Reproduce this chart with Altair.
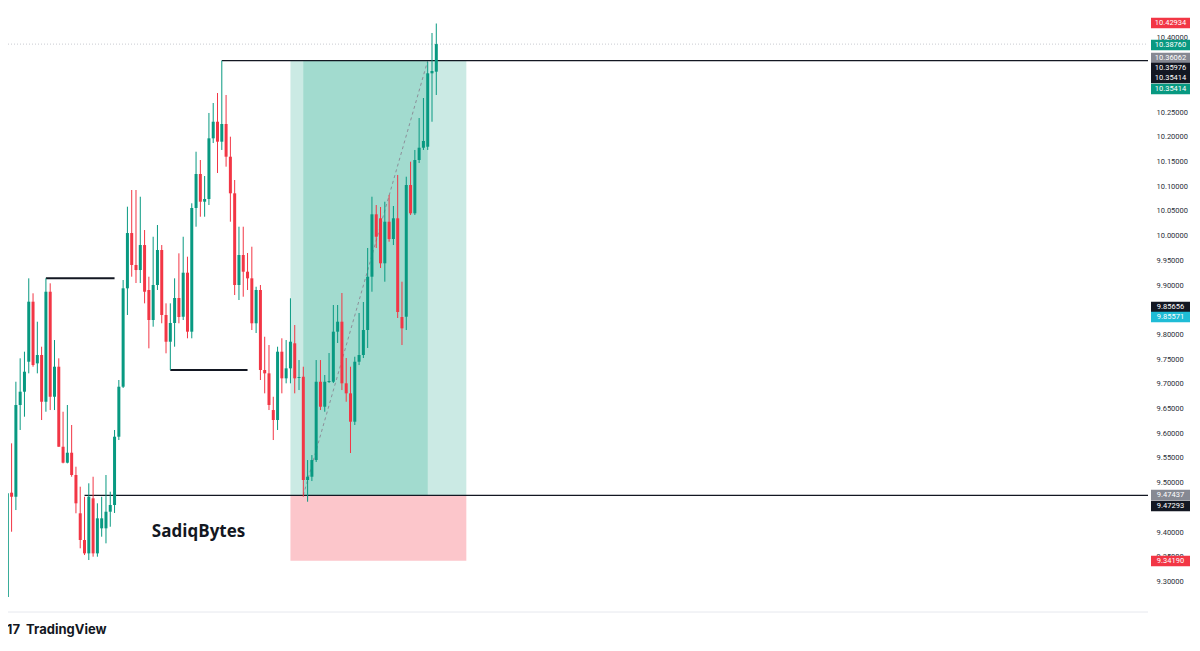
import altair as alt
import pandas as pd

GREEN = "#089981"
RED = "#f23645"

# ---- candle data ----
opens = [
    9.2684, 9.4796, 9.4714, 9.6571, 9.6840, 9.7447, 9.8662, 9.7414, 9.7583, 9.6637,
    9.8864, 9.6738, 9.7346, 9.5726, 9.5403, 9.5605, 9.5154, 9.4379, 9.3838, 9.3568,
    9.4682, 9.3568, 9.4075, 9.4075, 9.4411, 9.4547, 9.5929, 9.6941, 9.8933, 10.0052,
    9.9405, 9.9303, 9.9809, 9.8899, 9.8291, 9.9000, 9.9708, 9.8393, 9.7852, 9.8231,
    9.8737, 9.8358, 9.9249, 9.8055, 10.0559, 10.1247, 10.0686, 10.0741, 10.1969, 10.2305,
    10.1901, 10.2259, 10.1597, 10.0856, 9.9000, 9.9607, 9.9269, 9.9135, 9.8225, 9.8899,
    9.7279, 9.7212, 9.6469, 9.6267, 9.7650, 9.7111, 9.7313, 9.7820, 9.7117, 9.7143,
    9.5053, 9.5119, 9.5457, 9.7042, 9.6536, 9.7036, 9.7042, 9.8055, 9.8257, 9.7010,
    9.6807, 9.6233, 9.7447, 9.7583, 9.8089, 9.9168, 10.0431, 10.0350, 9.9439, 10.0281,
    9.9931, 10.0350, 9.8352, 9.8358, 10.1024, 10.0451, 10.1530, 10.1779, 10.1799, 10.3285,
    10.3318,
]
highs = [
    9.5255, 9.5795, 9.7042, 9.7516, 9.7650, 9.9135, 9.8832, 9.8257, 9.7751, 9.9135,
    9.9034, 9.7886, 9.7516, 9.6435, 9.6571, 9.6166, 9.5322, 9.4917, 9.4714, 9.4986,
    9.5119, 9.4581, 9.4714, 9.5154, 9.4816, 9.6065, 9.7077, 9.9101, 10.0585, 10.0923,
    10.0923, 10.0787, 10.0113, 9.9168, 9.9977, 10.0214, 9.9809, 9.8629, 9.8629, 9.9135,
    9.9641, 9.9977, 9.9573, 10.0654, 10.1698, 10.1530, 10.1206, 10.2482, 10.2684, 10.2886,
    10.3541, 10.2846, 10.2002, 10.1125, 10.0180, 10.0180, 9.9648, 9.9775, 9.8965, 9.9000,
    9.7953, 9.7785, 9.6738, 9.7751, 9.7921, 9.7886, 9.8731, 9.8190, 9.7481, 9.7346,
    9.5457, 9.5558, 9.7481, 9.7481, 9.7178, 9.7623, 9.8595, 9.8595, 9.8838, 9.7522,
    9.7346, 9.7548, 9.8433, 9.8656, 9.9749, 10.0787, 10.0619, 10.0579, 10.0686, 10.0822,
    10.0599, 10.1227, 9.9067, 10.1192, 10.1496, 10.1733, 10.2380, 10.2785, 10.3520, 10.4101,
    10.4293,
]
lows = [
    9.2664, 9.4006, 9.4445, 9.6065, 9.6334, 9.7212, 9.7346, 9.7212, 9.6267, 9.6435,
    9.6469, 9.6469, 9.5726, 9.5390, 9.5390, 9.5119, 9.4379, 9.3670, 9.3534, 9.3433,
    9.3500, 9.3500, 9.3905, 9.3771, 9.4107, 9.4385, 9.5862, 9.6915, 9.8393, 9.9168,
    9.9040, 9.9040, 9.8629, 9.7718, 9.8156, 9.8899, 9.8225, 9.7617, 9.7279, 9.7751,
    9.8225, 9.8291, 9.7921, 9.7921, 10.0180, 10.0382, 10.0382, 10.0619, 10.1874, 10.1267,
    10.1733, 10.1395, 10.0281, 9.8797, 9.8696, 9.8763, 9.8899, 9.8089, 9.8028, 9.7077,
    9.6807, 9.6469, 9.5862, 9.6065, 9.6807, 9.7010, 9.7010, 9.6807, 9.6874, 9.4714,
    9.4613, 9.5032, 9.5417, 9.6469, 9.6435, 9.7016, 9.7016, 9.7826, 9.6874, 9.6637,
    9.5599, 9.6166, 9.7380, 9.7522, 9.7725, 9.8864, 9.9749, 9.9344, 9.9067, 9.9876,
    9.9809, 9.8332, 9.7785, 9.8089, 10.0417, 10.0417, 10.1469, 10.1733, 10.1733, 10.2305,
    10.2846,
]
closes = [
    9.4783, 9.4714, 9.6571, 9.6840, 9.7245, 9.8662, 9.7380, 9.7583, 9.6637, 9.8864,
    9.6738, 9.7346, 9.5726, 9.5403, 9.5605, 9.5154, 9.4581, 9.3838, 9.3568, 9.4714,
    9.3568, 9.4277, 9.4277, 9.4411, 9.4547, 9.5929, 9.6941, 9.8933, 10.0052, 9.9405,
    9.9303, 9.9809, 9.8864, 9.8291, 9.9000, 9.9708, 9.8393, 9.7852, 9.8231, 9.8737,
    9.8352, 9.9249, 9.8055, 10.0559, 10.1247, 10.0686, 10.0741, 10.1969, 10.2305, 10.1901,
    10.2259, 10.1597, 10.0856, 9.9000, 9.9607, 9.9269, 9.9135, 9.8225, 9.8899, 9.7279,
    9.7212, 9.6571, 9.6267, 9.7650, 9.7111, 9.7313, 9.7852, 9.7111, 9.7137, 9.5053,
    9.5119, 9.5457, 9.7042, 9.6536, 9.7042, 9.7056, 9.8055, 9.8257, 9.7010, 9.6807,
    9.6233, 9.7447, 9.7583, 9.8089, 9.9168, 10.0431, 9.9977, 9.9439, 10.0281, 9.9931,
    10.0350, 9.8453, 9.8123, 10.1024, 10.0451, 10.1530, 10.1779, 10.1915, 10.3285, 10.3332,
    10.3876,
]

# ---- drawings ----
thick_levels = [9.9135, 9.7279]
thick_start = [10, 39]
thick_end = [26, 57]
long_levels = [10.35414, 9.47437]
long_start = [51, 19]
last_price = 10.3876

entry_price = 9.47437
target_price = 10.35414
stop_price = 9.34190
tool_start, tool_end = 67, 108
trade_open, trade_close = 70, 99

badge_labels = ["10.42934", "10.38760", "10.36062", "10.35976", "10.35414", "10.35414",
                "9.85656", "9.85571", "9.47437", "9.47293", "9.34190"]
badge_levels = [10.4303, 10.3858, 10.3595, 10.3393, 10.3190, 10.2967,
                9.8554, 9.8352, 9.4749, 9.4526, 9.3413]
badge_kinds = ["b_red", "b_green", "b_gray", "b_black", "b_black", "b_green",
               "b_black", "b_cyan", "b_gray", "b_black", "b_red"]

tick_values = [round(9.30 + 0.05 * k, 2) for k in range(23)]

watermark = "SadiqBytes"
watermark_bar = 34.7
watermark_price = 9.400

X_MIN, X_MAX = 1.163, 266.9
Y_MIN, Y_MAX = 9.2381, 10.4607
W, H = 1140, 604

xs = alt.Scale(domain=[X_MIN, X_MAX], nice=False, zero=False, padding=0)
ys = alt.Scale(domain=[Y_MIN, Y_MAX], nice=False, zero=False, padding=0)
Y_AXIS = alt.Axis(orient="right", values=tick_values, format=".5f", ticks=False,
                  tickSize=0, domain=False, grid=False, labelPadding=8,
                  labelFontSize=7.5, labelColor="#2a2e39", labelFont="Roboto",
                  labelOverlap=False, labelFlush=False, title=None)


def Y(field):
    return alt.Y(field, scale=ys, axis=Y_AXIS, title=None)


def X(field):
    return alt.X(field, scale=xs, axis=None, title=None)


candles = pd.DataFrame({
    "bar": list(range(1, len(opens) + 1)),
    "open": opens, "high": highs, "low": lows, "close": closes,
})
candles["dir"] = ["up" if c >= o else "down" for o, c in zip(opens, closes)]

COLOR_SCALE = alt.Scale(
    domain=["up", "down", "b_red", "b_green", "b_gray", "b_black", "b_cyan"],
    range=[GREEN, RED, RED, GREEN, "#868993", "#131722", "#1fbcd6"])

zone = pd.DataFrame({"x1": [tool_start], "x2": [tool_end], "entry": [entry_price],
                     "target": [target_price], "stop": [stop_price],
                     "t1": [trade_open], "t2": [trade_close]})

profit_light = alt.Chart(zone).mark_rect(color="#cbeae4").encode(
    x=X("x1:Q"), x2="x2:Q", y=Y("entry:Q"), y2="target:Q")
profit_dark = alt.Chart(zone).mark_rect(color="#a2dbcf").encode(
    x=X("t1:Q"), x2="t2:Q", y=Y("entry:Q"), y2="target:Q")
loss = alt.Chart(zone).mark_rect(color="#fcc6cb").encode(
    x=X("x1:Q"), x2="x2:Q", y=Y("stop:Q"), y2="entry:Q")
diag = alt.Chart(zone).mark_rule(color="#8c8f99", strokeDash=[3, 3], strokeWidth=1).encode(
    x=X("t1:Q"), x2="t2:Q", y=Y("entry:Q"), y2="target:Q")

bottom_line = alt.Chart(pd.DataFrame({"p": [Y_MIN], "a": [X_MIN], "b": [X_MAX]})).mark_rule(
    color="#e6e8ee", strokeWidth=1).encode(x=X("a:Q"), x2="b:Q", y=Y("p:Q"))

price_line = alt.Chart(pd.DataFrame({"p": [last_price], "a": [X_MIN], "b": [X_MAX]})).mark_rule(
    color="#c9cbd1", strokeDash=[1, 2], strokeWidth=1).encode(
    x=X("a:Q"), x2="b:Q", y=Y("p:Q"))

long_df = pd.DataFrame({"p": long_levels, "a": long_start, "b": [X_MAX] * len(long_levels)})
long_lines = alt.Chart(long_df).mark_rule(color="#131722", strokeWidth=1.3).encode(
    x=X("a:Q"), x2="b:Q", y=Y("p:Q"))

thick_df = pd.DataFrame({"p": thick_levels, "a": thick_start, "b": thick_end})
thick_lines = alt.Chart(thick_df).mark_rule(color="#131722", strokeWidth=2).encode(
    x=X("a:Q"), x2="b:Q", y=Y("p:Q"))

wicks = alt.Chart(candles).mark_rule(strokeWidth=1).encode(
    x=X("bar:Q"), y=Y("low:Q"), y2="high:Q",
    color=alt.Color("dir:N", scale=COLOR_SCALE, legend=None))
bodies = alt.Chart(candles).mark_bar(width=3).encode(
    x=X("bar:Q"), y=Y("open:Q"), y2="close:Q",
    color=alt.Color("dir:N", scale=COLOR_SCALE, legend=None))

wm = alt.Chart(pd.DataFrame({"t": [watermark], "bx": [watermark_bar], "py": [watermark_price]})).mark_text(
    align="left", baseline="middle", font="Open Sans", fontWeight="bold", fontSize=17,
    color="#131722").encode(x=X("bx:Q"), y=Y("py:Q"), text="t:N")

badges = pd.DataFrame({"label": badge_labels, "level": badge_levels, "kind": badge_kinds})
badge_box = alt.Chart(badges).mark_tick(orient="horizontal", size=39, thickness=10.5, opacity=1).encode(
    x=alt.value(W + 22.5), y=Y("level:Q"),
    color=alt.Color("kind:N", scale=COLOR_SCALE, legend=None))
badge_txt = alt.Chart(badges).mark_text(
    align="center", baseline="middle", fontSize=7.5, font="Roboto", color="white").encode(
    x=alt.value(W + 22.5), y=Y("level:Q"), text="label:N")

chart = alt.layer(
    profit_light, profit_dark, loss, bottom_line, price_line, diag, long_lines, thick_lines,
    wicks, bodies, wm, badge_box, badge_txt,
).properties(
    width=W, height=H,
    autosize=alt.AutoSizeParams(type="none"),
    padding={"left": 0, "top": 0, "right": 42, "bottom": 31},
    title=alt.TitleParams(text="17\u00a0\u00a0TradingView", orient="bottom", anchor="start",
                          font="Inter", fontSize=13, fontWeight="bold", color="#131722",
                          offset=11, dx=1),
).configure(background="white").configure_view(stroke=None)

chart.save("out.html", embed_options={"renderer": "svg", "actions": False})
